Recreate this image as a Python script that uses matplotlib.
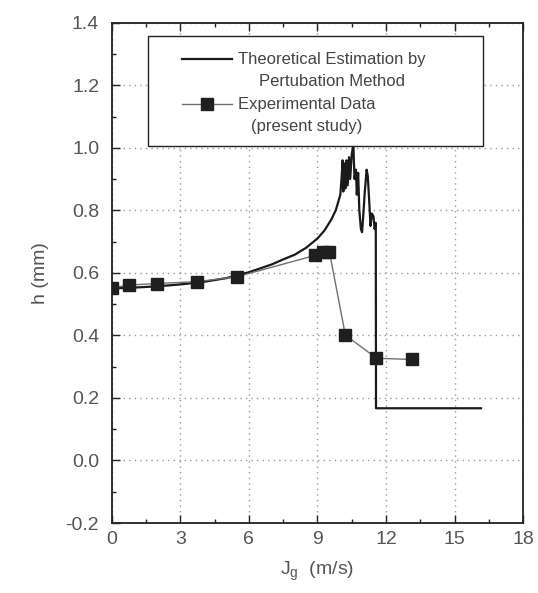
import matplotlib
matplotlib.use("Agg")
import matplotlib.pyplot as plt
import numpy as np
from matplotlib.legend_handler import HandlerLine2D
from matplotlib.patches import Rectangle
from matplotlib.ticker import MultipleLocator

# courbe théorique (méthode de perturbation)
theo_x = [0, 1, 2, 3, 4, 5, 6, 7, 7.5, 8, 8.5, 9, 9.3, 9.6, 9.8, 10.0,
          10.05, 10.1, 10.13, 10.18, 10.22, 10.27, 10.32, 10.38, 10.43, 10.5,
          10.57, 10.62, 10.68, 10.72, 10.78, 10.83, 10.9, 10.95, 11.0, 11.07,
          11.15, 11.2, 11.27, 11.32, 11.38, 11.45, 11.5, 11.55, 11.56, 16.15]
theo_h = [0.550, 0.553, 0.557, 0.563, 0.571, 0.583, 0.602, 0.627, 0.643, 0.658,
          0.680, 0.710, 0.735, 0.770, 0.800, 0.850,
          0.900, 0.960, 0.860, 0.950, 0.870, 0.960, 0.880, 0.970, 0.900, 0.980,
          1.010, 0.900, 0.930, 0.850, 0.920, 0.800, 0.740, 0.730, 0.780, 0.860,
          0.930, 0.910, 0.820, 0.750, 0.790, 0.780, 0.740, 0.760, 0.167, 0.167]

# données expérimentales
exp_x = [0.0, 0.75, 2.0, 3.75, 5.5, 8.9, 9.22, 9.52, 10.22, 11.58, 13.15]
exp_h = [0.552, 0.561, 0.566, 0.572, 0.588, 0.656, 0.668, 0.668, 0.401, 0.327, 0.323]


class _HandlerTop(HandlerLine2D):
    """Place le symbole de légende au niveau de la première ligne du texte."""

    def create_artists(self, legend, orig_handle, xdescent, ydescent,
                       width, height, fontsize, trans):
        arts = super().create_artists(legend, orig_handle, xdescent, ydescent,
                                      width, height, fontsize, trans)
        for a in arts:
            a.set_ydata(np.asarray(a.get_ydata()) + 0.68 * fontsize)
        return arts


plt.rcParams["font.family"] = "Liberation Sans"
plt.rcParams["mathtext.fontset"] = "custom"
plt.rcParams["mathtext.rm"] = "Liberation Sans"

fig = plt.figure(figsize=(5.38, 5.93), dpi=100)
ax = fig.add_axes([0.2076, 0.118, 0.765, 0.8437])

l_theo, = ax.plot(theo_x, theo_h, color="#1a1a1a", lw=1.6, zorder=3,
                  label="Theoretical Estimation by\nPertubation Method")
l_exp, = ax.plot(exp_x, exp_h, color="#707070", lw=1.0, marker="s", ms=9,
                 mfc="#1f1f1f", mec="#1f1f1f", zorder=4,
                 label="Experimental Data\n(present study)")

ax.set_xlim(0, 18)
ax.set_ylim(-0.2, 1.4)
ax.xaxis.set_major_locator(MultipleLocator(3))
ax.xaxis.set_minor_locator(MultipleLocator(1.5))
ax.yaxis.set_major_locator(MultipleLocator(0.2))
ax.yaxis.set_minor_locator(MultipleLocator(0.1))
ax.yaxis.set_major_formatter(plt.FormatStrFormatter("%.1f"))

ax.grid(True, which="major", linestyle=(0, (1, 3)), color="#999999", lw=1.0)
ax.tick_params(which="both", direction="in", top=True, right=False,
               colors="#222222", labelcolor="#555555")
ax.tick_params(which="major", length=6, width=1.0, labelsize=14)
ax.tick_params(which="minor", length=3, width=1.0)
ax.tick_params(axis="x", pad=6)
ax.tick_params(axis="y", pad=9)
for s in ax.spines.values():
    s.set_linewidth(1.3)
    s.set_color("#222222")

ax.set_xlabel(r"J$_{\rm g}$  (m/s)", fontsize=14, color="#555555", labelpad=8)
ax.set_ylabel("h (mm)", fontsize=14, color="#555555", labelpad=12)

# cadre de la légende
ax.add_patch(Rectangle((0.088, 0.753), 0.814, 0.220, transform=ax.transAxes,
                       facecolor="white", edgecolor="#222222", lw=1.0, zorder=5))
leg = ax.legend(loc="upper left", bbox_to_anchor=(0.154, 0.955), frameon=False,
                fontsize=12, handlelength=3.0, handletextpad=0.36,
                labelspacing=0.45, borderaxespad=0, labelcolor="#444444",
                handler_map={l_theo: _HandlerTop(), l_exp: _HandlerTop()})
leg.set_zorder(6)
for t in leg.get_texts():
    t.set_multialignment("center")
    t.set_linespacing(1.6)

fig.savefig("out.png", dpi=100, facecolor="white")
